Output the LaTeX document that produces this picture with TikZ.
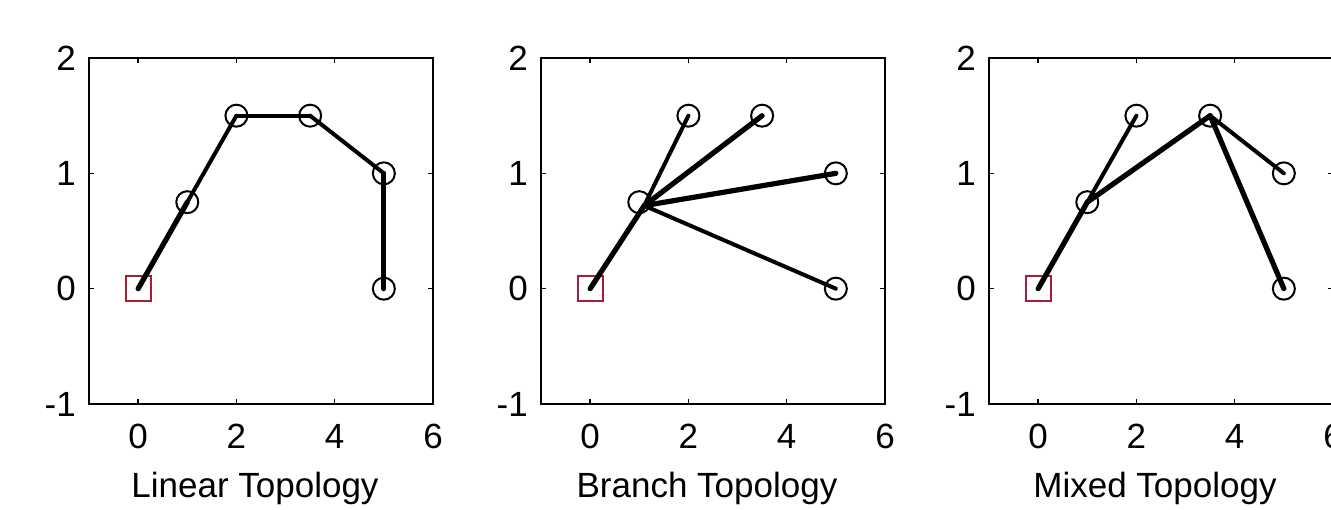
\documentclass[tikz,border=0pt]{standalone}
\usepackage{fontspec}
\setmainfont{Liberation Sans}
\definecolor{sqred}{RGB}{165,30,55}
\begin{document}
\begin{tikzpicture}[x=1pt,y=-1pt,
  frame/.style={line width=2pt},
  tickmark/.style={line width=1.5pt},
  lab/.style={font=\fontsize{35}{40}\selectfont, inner sep=0pt},
  pin/.style={circle, draw, line width=2pt, minimum size=22pt, inner sep=0pt},
  src/.style={rectangle, draw=sqred, line width=2pt, minimum size=25pt, inner sep=0pt},
  wire/.style={line width=4pt, line cap=round},
  wireb/.style={line width=5.2pt, line cap=round}]
\useasboundingbox (0,0) rectangle (1331,509);
\fill[white] (0,0) rectangle (1331,509);

% ---------- Plot 1: Linear ----------
\begin{scope}[shift={(138.14,288.67)}, x=49.14pt, y=115.33pt]
  \draw[frame] (-1,-1) rectangle (6,2);
  \foreach \t in {0,2,4,6} {
    \draw[tickmark] (\t,-1) -- ++(0,5pt);
    \draw[tickmark] (\t,2) -- ++(0,-5pt);
    \node[lab, anchor=base, yshift=-44pt] (a-x\t) at (\t,-1) {\t};
  }
  \foreach \t in {-1,0,1,2} {
    \draw[tickmark] (-1,\t) -- ++(5pt,0);
    \draw[tickmark] (6,\t) -- ++(-5pt,0);
    \node[lab, anchor=east, xshift=-13pt] (a-y\t) at (-1,\t) {\t};
  }
  \node[lab, anchor=base, yshift=-93pt, xshift=-6pt] (a-title) at (2.5,-1) {Linear Topology};
  \node[src] (a0) at (0,0) {};
  \node[pin] (a1) at (1,0.75) {};
  \node[pin] (a2) at (2,1.5) {};
  \node[pin] (a3) at (3.5,1.5) {};
  \node[pin] (a4) at (5,1) {};
  \node[pin] (a5) at (5,0) {};
  \draw[wireb] (a0.center) -- (a1.center);
  \draw[wire] (a1.center) -- (a2.center);
  \draw[wire] (a2.center) -- (a3.center);
  \draw[wire] (a3.center) -- (a4.center);
  \draw[wireb] (a4.center) -- (a5.center);
\end{scope}

% ---------- Plot 2: Branch ----------
\begin{scope}[shift={(590.14,288.67)}, x=49.14pt, y=115.33pt]
  \draw[frame] (-1,-1) rectangle (6,2);
  \foreach \t in {0,2,4,6} {
    \draw[tickmark] (\t,-1) -- ++(0,5pt);
    \draw[tickmark] (\t,2) -- ++(0,-5pt);
    \node[lab, anchor=base, yshift=-44pt] (b-x\t) at (\t,-1) {\t};
  }
  \foreach \t in {-1,0,1,2} {
    \draw[tickmark] (-1,\t) -- ++(5pt,0);
    \draw[tickmark] (6,\t) -- ++(-5pt,0);
    \node[lab, anchor=east, xshift=-13pt] (b-y\t) at (-1,\t) {\t};
  }
  \node[lab, anchor=base, yshift=-93pt, xshift=-6pt] (b-title) at (2.5,-1) {Branch Topology};
  \node[src] (b0) at (0,0) {};
  \node[pin] (b1) at (1,0.75) {};
  \node[pin] (b2) at (2,1.5) {};
  \node[pin] (b3) at (3.5,1.5) {};
  \node[pin] (b4) at (5,1) {};
  \node[pin] (b5) at (5,0) {};
  \coordinate (bh) at (1.1,0.72);
  \draw[wireb] (b0.center) -- (bh);
  \draw[wire] (bh) -- (b2.center);
  \draw[wireb] (bh) -- (b3.center);
  \draw[wireb] (bh) -- (b4.center);
  \draw[wire] (bh) -- (b5.center);
\end{scope}

% ---------- Plot 3: Mixed ----------
\begin{scope}[shift={(1038.14,288.67)}, x=49.14pt, y=115.33pt]
  \draw[frame] (-1,-1) rectangle (6,2);
  \foreach \t in {0,2,4,6} {
    \draw[tickmark] (\t,-1) -- ++(0,5pt);
    \draw[tickmark] (\t,2) -- ++(0,-5pt);
    \node[lab, anchor=base, yshift=-44pt] (c-x\t) at (\t,-1) {\t};
  }
  \foreach \t in {-1,0,1,2} {
    \draw[tickmark] (-1,\t) -- ++(5pt,0);
    \draw[tickmark] (6,\t) -- ++(-5pt,0);
    \node[lab, anchor=east, xshift=-13pt] (c-y\t) at (-1,\t) {\t};
  }
  \node[lab, anchor=base, yshift=-93pt, xshift=-6pt] (c-title) at (2.5,-1) {Mixed Topology};
  \node[src] (c0) at (0,0) {};
  \node[pin] (c1) at (1,0.75) {};
  \node[pin] (c2) at (2,1.5) {};
  \node[pin] (c3) at (3.5,1.5) {};
  \node[pin] (c4) at (5,1) {};
  \node[pin] (c5) at (5,0) {};
  \draw[wireb] (c0.center) -- (c1.center);
  \draw[wire] (c1.center) -- (c2.center);
  \draw[wireb] (c1.center) -- (c3.center);
  \draw[wire] (c3.center) -- (c4.center);
  \draw[wireb] (c3.center) -- (c5.center);
\end{scope}
\end{tikzpicture}
\end{document}
